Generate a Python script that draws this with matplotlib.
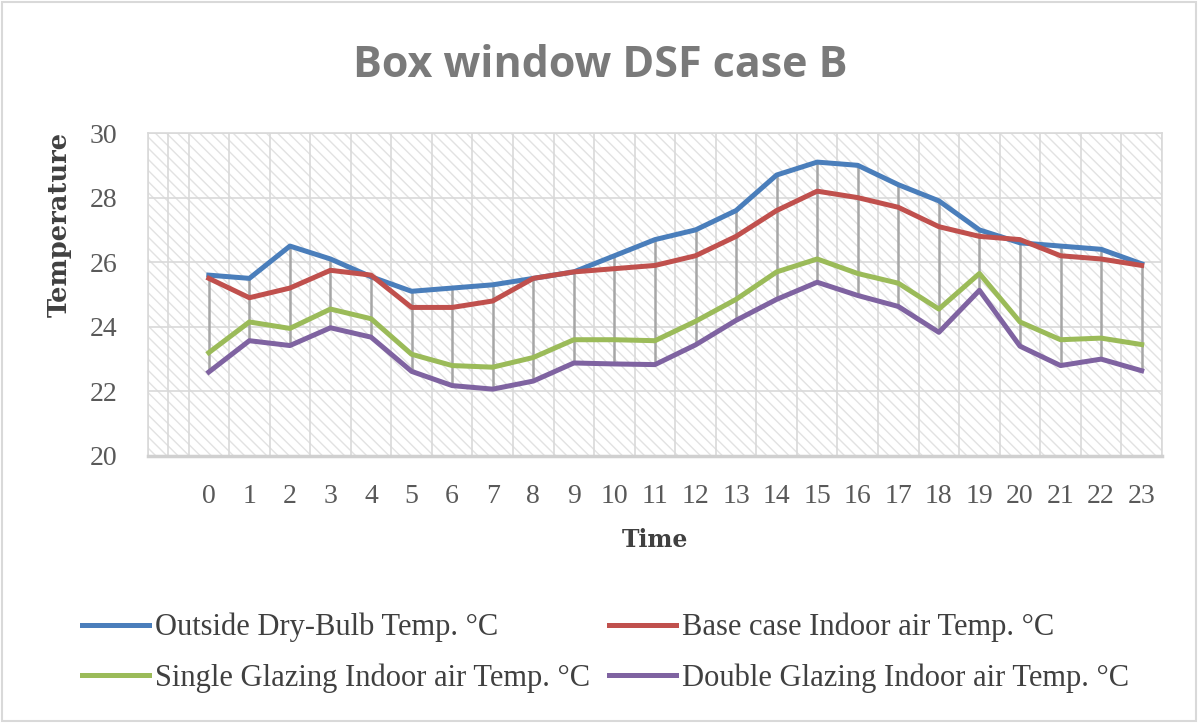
import numpy as np
import matplotlib
matplotlib.use('Agg')
import matplotlib.pyplot as plt
from matplotlib.patches import Rectangle
from matplotlib.lines import Line2D

hours = list(range(24))
outside = [25.6, 25.5, 26.5, 26.1, 25.55, 25.1, 25.2, 25.3, 25.5, 25.7, 26.2, 26.7,
           27.0, 27.6, 28.7, 29.1, 29.0, 28.4, 27.9, 27.0, 26.6, 26.5, 26.4, 25.95]
base = [25.5, 24.9, 25.2, 25.75, 25.6, 24.6, 24.6, 24.8, 25.5, 25.7, 25.8, 25.9,
        26.2, 26.8, 27.6, 28.2, 28.0, 27.7, 27.1, 26.8, 26.7, 26.2, 26.1, 25.9]
single = [23.2, 24.15, 23.95, 24.55, 24.25, 23.15, 22.8, 22.75, 23.05, 23.6, 23.6, 23.57,
          24.17, 24.85, 25.7, 26.1, 25.65, 25.35, 24.55, 25.65, 24.15, 23.6, 23.65, 23.45]
double = [22.6, 23.57, 23.42, 23.97, 23.68, 22.62, 22.18, 22.07, 22.32, 22.88, 22.85, 22.83,
          23.44, 24.2, 24.85, 25.38, 24.97, 24.63, 23.83, 25.13, 23.4, 22.8, 23.0, 22.64]

labels = ['Outside Dry-Bulb Temp. °C', 'Base case Indoor air Temp. °C',
          'Single Glazing Indoor air Temp. °C', 'Double Glazing Indoor air Temp. °C']
colors = ['#4a7ebb', '#c0504d', '#9bbb59', '#7f63a1']

plt.rcParams['hatch.linewidth'] = 1.0

fig = plt.figure(figsize=(12, 7.23), dpi=100)
fig.patches.append(Rectangle((0.002, 0.003), 0.995, 0.994, transform=fig.transFigure,
                             fill=False, edgecolor='#d9d9d9', linewidth=1.5))

ax = fig.add_axes([0.1233, 0.3693, 0.845, 0.4467])
ax.add_patch(Rectangle((0, 0), 1, 1, transform=ax.transAxes, facecolor='white',
                       edgecolor='#e2e2e2', hatch='\\\\\\', linewidth=0, zorder=0))

ax.set_xlim(-1.5, 23.5)
ax.set_ylim(20, 30)
ax.set_yticks([20, 22, 24, 26, 28, 30])
ax.set_xticks(hours)
ax.set_xticklabels([str(h) for h in hours])
ax.set_xticks(np.arange(-1.5, 23.6, 0.5), minor=True)

ax.grid(True, which='minor', axis='x', color='#d9d9d9', linewidth=1.2, zorder=1)
ax.grid(True, which='major', axis='y', color='#d9d9d9', linewidth=1.2, zorder=1)
ax.tick_params(which='both', length=0)
ax.tick_params(axis='y', pad=22)
ax.tick_params(axis='x', pad=20)

for t in ax.get_xticklabels() + ax.get_yticklabels():
    t.set_fontfamily('Liberation Serif')
    t.set_fontsize(20)
    t.set_color('#595959')

for s in ['left', 'top', 'right']:
    ax.spines[s].set_color('#d9d9d9')
    ax.spines[s].set_linewidth(1.2)
ax.spines['bottom'].set_color('#d0d0d0')
ax.spines['bottom'].set_linewidth(2.5)

hi = np.max([outside, base, single, double], axis=0)
lo = np.min([outside, base, single, double], axis=0)
ax.vlines(hours, lo, hi, color='#a6a6a6', linewidth=1.8, zorder=3)

for vals, c, lab in zip([outside, base, single, double], colors, labels):
    ax.plot(hours, vals, color=c, linewidth=3.6, label=lab, zorder=4,
            solid_joinstyle='round')

ax.set_xlabel('Time', fontfamily='DejaVu Serif', fontweight='bold', fontsize=17,
              color='#404040', labelpad=14)
ax.set_ylabel('Temperature', fontfamily='DejaVu Serif', fontweight='bold', fontsize=18.5,
              color='#404040')
ax.yaxis.set_label_coords(-0.075, 0.718)

fig.text(0.5, 0.91, 'Box window DSF case B', ha='center', va='center',
         fontfamily='Open Sans', fontweight='bold', fontsize=31, color='#7a7a7a')

handles = [Line2D([0], [0], color=c, linewidth=3.6) for c in colors]
order = [0, 2, 1, 3]
fig.legend([handles[i] for i in order], [labels[i] for i in order], ncol=2,
           loc='center left', bbox_to_anchor=(0.045, 0.097), frameon=False,
           prop={'family': 'Liberation Serif', 'size': 22},
           handlelength=2.2, handletextpad=0.2, columnspacing=0.62, labelspacing=0.68,
           labelcolor='#404040')

fig.savefig('out.png', dpi=100)
